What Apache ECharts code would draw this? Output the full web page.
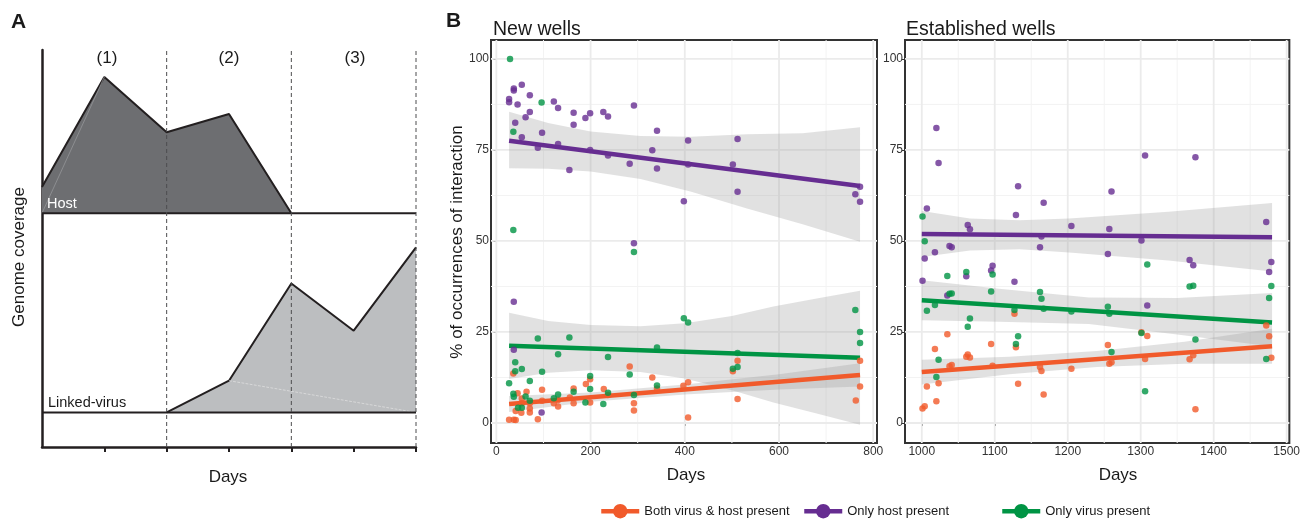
<!DOCTYPE html>
<html>
<head>
<meta charset="utf-8">
<script src="https://cdn.jsdelivr.net/npm/echarts@6/dist/echarts.min.js"></script>
<style>
html,body{margin:0;padding:0;background:#fff;}
#chart{width:1303px;height:521px;}
</style>
</head>
<body>
<div id="chart"></div>
<script>
// ---------------- Panel A (schematic) ----------------
const hostX = [0, 1, 2, 3, 4];
const hostY = [65.5, 93.2, 79.3, 83.9, 58.9];
const hostBase = 58.9;
const virusX = [2, 3, 4, 5, 6];
const virusY = [8.7, 16.7, 41.2, 29.3, 50.3];
const virusBase = 8.7;
const phaseLinesX = [2, 4, 6];
const dayTicksA = [1, 2, 3, 4, 5, 6];
const phaseLabels = ['(1)', '(2)', '(3)'];

// ---------------- Panel B ----------------
const categories = ['Both virus & host present', 'Only host present', 'Only virus present'];
const colors = ['#F15A2B', '#662D91', '#009444'];

const xTicksNew = [0, 200, 400, 600, 800];
const xMinorNew = [100, 300, 500, 700];
const xTicksEst = [1000, 1100, 1200, 1300, 1400, 1500];
const xMinorEst = [1050, 1150, 1250, 1350, 1450];
const yTicks = [0, 25, 50, 75, 100];
const yMinor = [12.5, 37.5, 62.5, 87.5];

// New wells scatter [day, %]
const newBoth = [[27,0.9],[37,0.9],[41,0.8],[88,1.0],[41,3.3],[53,2.8],[71,2.9],[71,4.0],[71,5.4],[36,13.6],[45,8.2],[54,6.7],[54,5.4],[64,8.6],[97,9.1],[97,6.1],[122,5.4],[131,4.5],[131,6.3],[156,7.0],[164,9.5],[164,5.4],[190,10.7],[199,12.0],[199,5.6],[228,9.3],[237,7.7],[283,15.5],[292,5.4],[292,3.4],[331,12.5],[341,9.5],[397,10.2],[407,11.2],[407,1.5],[502,14.2],[512,17.1],[512,6.6],[772,17.1],[772,10.0],[763,6.2]];
const newHost = [[54,92.9],[37,91.9],[37,91.3],[71,90.0],[27,89.0],[27,88.1],[45,87.5],[122,88.3],[131,86.5],[71,85.4],[164,85.2],[199,85.1],[227,85.4],[237,84.2],[189,83.8],[62,84.0],[292,87.2],[40,82.5],[164,81.9],[97,79.7],[54,78.5],[341,80.3],[407,77.6],[88,75.6],[131,76.6],[331,74.9],[199,75.0],[237,73.5],[283,71.2],[341,69.9],[155,69.5],[407,71.0],[398,60.9],[292,49.4],[512,78.0],[502,71.0],[512,63.5],[772,64.9],[762,62.8],[772,60.8],[37,33.3],[37,20.1],[96,2.9]];
const newVirus = [[29,100],[96,88],[36,80],[36,53],[292,47.0],[27,10.9],[36,8.0],[37,7.2],[40,16.7],[40,14.2],[54,14.8],[71,11.5],[62,7.3],[54,4.2],[46,4.2],[88,23.2],[155,23.5],[97,14.1],[131,18.9],[237,18.1],[341,20.7],[283,13.3],[199,12.9],[199,9.3],[131,7.8],[164,8.6],[189,5.6],[227,5.2],[122,6.8],[71,6.1],[341,10.3],[292,7.7],[237,8.3],[398,28.8],[407,27.6],[512,19.2],[502,14.9],[512,15.4],[762,31.0],[772,25.0],[772,22.0]];

// Established wells scatter [day, %]
const estBoth = [[1035,24.4],[1127,30.0],[1095,21.7],[1129,20.8],[1018,20.3],[1063,18.8],[1066,18.0],[1061,18.2],[1038,15.6],[1041,15.9],[1097,15.7],[1162,15.4],[1164,14.3],[1205,14.9],[1007,10.0],[1023,10.9],[1132,10.8],[1167,7.8],[1020,6.0],[1001,4.0],[1004,4.6],[1301,24.9],[1309,23.9],[1472,26.8],[1476,23.8],[1255,21.4],[1479,17.9],[1372,18.6],[1367,17.5],[1306,17.6],[1257,16.3],[1260,16.7],[1375,3.8]];
const estHost = [[1020,81.0],[1023,71.4],[1132,65.0],[1167,60.5],[1007,58.9],[1129,57.1],[1063,54.4],[1066,53.2],[1205,54.1],[1164,51.2],[1038,48.6],[1041,48.3],[1162,48.3],[1018,46.9],[1004,45.2],[1097,43.2],[1095,41.9],[1061,40.3],[1001,39.1],[1127,38.8],[1035,35.0],[1306,73.5],[1375,73.0],[1260,63.6],[1472,55.2],[1257,53.3],[1301,50.1],[1255,46.4],[1367,44.8],[1372,43.3],[1479,44.2],[1476,41.5],[1309,32.3]];
const estVirus = [[1001,56.7],[1004,49.9],[1035,40.4],[1061,41.5],[1097,40.8],[1095,36.1],[1162,36.0],[1164,34.1],[1038,35.5],[1041,35.6],[1007,30.8],[1018,32.4],[1127,31.0],[1167,31.4],[1205,30.6],[1066,28.7],[1063,26.4],[1132,23.8],[1129,21.7],[1023,17.4],[1020,12.6],[1309,43.5],[1367,37.5],[1372,37.7],[1479,37.6],[1476,34.3],[1255,31.9],[1257,30.0],[1301,24.7],[1375,22.9],[1260,19.5],[1472,17.6],[1306,8.7]];

// Linear fits (end points) and confidence bands
const newFitX = [27, 772];
const newBothFit = [5.2, 13.2];
const newHostFit = [77.5, 65.1];
const newVirusFit = [21.2, 17.9];
const newBothBandX = [27, 200, 400, 600, 772];
const newBothUp = [7.4, 8.4, 10.6, 13.4, 16.4];
const newBothLo = [3.0, 5.8, 7.8, 9.2, 10.0];
const newHostBandX = [27, 110, 200, 306, 412, 532, 650, 772];
const newHostUp = [85.5, 82.4, 80.1, 78.8, 78.6, 79.3, 79.6, 81.2];
const newHostLo = [70.0, 69.8, 69.1, 67.0, 63.6, 58.9, 54.6, 49.8];
const newVirusBandX = [27, 110, 200, 306, 400, 500, 588, 680, 772];
const newVirusUp = [30.3, 28.0, 26.9, 26.6, 27.4, 29.4, 32.0, 34.2, 36.3];
const newVirusLo = [12.1, 13.8, 14.5, 14.0, 12.2, 9.0, 5.6, 2.6, -0.5];

const estFitX = [1000, 1480];
const estBothFit = [14.0, 21.1];
const estHostFit = [51.9, 51.0];
const estVirusFit = [33.7, 27.6];
const estBothBandX = [1000, 1120, 1240, 1360, 1480];
const estBothUp = [17.4, 18.2, 19.8, 22.3, 25.9];
const estBothLo = [10.6, 13.4, 15.4, 16.3, 16.3];
const estHostBandX = [1000, 1066, 1134, 1202, 1338, 1480];
const estHostUp = [58.2, 56.2, 55.7, 56.2, 58.0, 60.4];
const estHostLo = [45.6, 47.4, 47.7, 46.8, 44.6, 41.6];
const estVirusBandX = [1000, 1106, 1229, 1350, 1480];
const estVirusUp = [39.2, 36.9, 34.5, 34.3, 35.7];
const estVirusLo = [28.2, 27.8, 27.2, 24.3, 21.0];

// ---------------- helpers ----------------
const FONT = '"Liberation Sans", Arial, Helvetica, sans-serif';
const TXT = '#1a1a1a';

function gridLineSeries(idx, vals, vertical, color, width, other) {
  return {
    type: 'custom', xAxisIndex: idx, yAxisIndex: idx, silent: true, z: 1,
    data: vals.map(v => vertical ? [v, other] : [other, v]),
    renderItem: function (params, api) {
      const cs = params.coordSys;
      const p = api.coord([api.value(0), api.value(1)]);
      const shape = vertical
        ? {x1: p[0], y1: cs.y, x2: p[0], y2: cs.y + cs.height}
        : {x1: cs.x, y1: p[1], x2: cs.x + cs.width, y2: p[1]};
      return {type: 'line', shape: shape, style: {stroke: color, lineWidth: width}};
    }
  };
}
function bandSeries(idx, xs, up, lo) {
  return {
    type: 'custom', xAxisIndex: idx, yAxisIndex: idx, silent: true, z: 2,
    data: [[xs[0], up[0]]],
    renderItem: function (params, api) {
      const pts = [];
      for (let i = 0; i < xs.length; i++) pts.push(api.coord([xs[i], up[i]]));
      for (let i = xs.length - 1; i >= 0; i--) pts.push(api.coord([xs[i], lo[i]]));
      return {type: 'polygon', shape: {points: pts}, style: {fill: '#9a9a9a', opacity: 0.3}};
    }
  };
}
function scatterSeries(idx, data, color) {
  return {type: 'scatter', xAxisIndex: idx, yAxisIndex: idx, data: data, symbolSize: 6.5,
    itemStyle: {color: color}, z: 2, silent: true};
}
function fitSeries(idx, xs, ys, color) {
  return {type: 'line', xAxisIndex: idx, yAxisIndex: idx, data: xs.map((x, i) => [x, ys[i]]),
    symbol: 'none', lineStyle: {color: color, width: 4.5}, z: 2, silent: true};
}
function panelAxisX(idx, min, max, ticks) {
  return {
    type: 'value', gridIndex: idx, min: min, max: max,
    axisLine: {show: false},
    axisTick: {show: true, customValues: ticks, length: 3, lineStyle: {color: '#333', width: 1}},
    axisLabel: {customValues: ticks, fontFamily: FONT, fontSize: 12, color: '#333', margin: 3,
      formatter: function (v) { return String(v); }},
    splitLine: {show: false}
  };
}
function panelAxisY(idx) {
  return {
    type: 'value', gridIndex: idx, min: -5.5, max: 105.2,
    axisLine: {show: false},
    axisTick: {show: true, customValues: yTicks, length: 3, lineStyle: {color: '#333', width: 1}},
    axisLabel: {customValues: yTicks, fontFamily: FONT, fontSize: 12, color: '#333', margin: 2,
      formatter: function (v) { return String(v); }},
    splitLine: {show: false}
  };
}

const chart = echarts.init(document.getElementById('chart'), null, {renderer: 'canvas'});

const series = [];
// Panel A
series.push({type: 'line', xAxisIndex: 0, yAxisIndex: 0, data: hostX.map((x, i) => [x, hostY[i]]),
  symbol: 'none', lineStyle: {color: '#231f20', width: 2},
  areaStyle: {color: '#6d6e71', opacity: 1, origin: hostBase}, z: 2, silent: true});
series.push({type: 'line', xAxisIndex: 0, yAxisIndex: 0, data: [[hostX[0], hostBase], [hostX[1], hostY[1]]],
  symbol: 'none', lineStyle: {color: '#9a9b9d', width: 0.7}, z: 3, silent: true});
series.push({type: 'line', xAxisIndex: 0, yAxisIndex: 0, data: [[0, hostBase], [6, hostBase]],
  symbol: 'none', lineStyle: {color: '#231f20', width: 2}, z: 4, silent: true});
series.push({type: 'line', xAxisIndex: 0, yAxisIndex: 0, data: virusX.map((x, i) => [x, virusY[i]]),
  symbol: 'none', lineStyle: {color: '#231f20', width: 2},
  areaStyle: {color: '#bcbec0', opacity: 1, origin: virusBase}, z: 2, silent: true});
series.push({type: 'line', xAxisIndex: 0, yAxisIndex: 0, data: [[virusX[1], virusY[1]], [virusX[4], virusBase]],
  symbol: 'none', lineStyle: {color: '#e2e2e2', width: 0.7, type: 'dashed'}, z: 3, silent: true});
series.push({type: 'line', xAxisIndex: 0, yAxisIndex: 0, data: [[0, virusBase], [6, virusBase]],
  symbol: 'none', lineStyle: {color: '#231f20', width: 2}, z: 4, silent: true});
series.push({
  type: 'custom', xAxisIndex: 0, yAxisIndex: 0, silent: true, z: 5,
  data: phaseLinesX.map(x => [x, 0]),
  renderItem: function (params, api) {
    const p0 = api.coord([api.value(0), 0]);
    const p1 = api.coord([api.value(0), 100]);
    return {type: 'line', shape: {x1: p0[0], y1: p0[1], x2: p1[0], y2: p1[1]},
      style: {stroke: '#4d4d4f', lineWidth: 1, lineDash: [4, 3]}};
  }
});

// Panel B grids
[[1, xTicksNew, xMinorNew, 400], [2, xTicksEst, xMinorEst, 1200]].forEach(function (g) {
  series.push(gridLineSeries(g[0], g[2], true, '#f3f3f3', 1, 50));
  series.push(gridLineSeries(g[0], yMinor, false, '#f3f3f3', 1, g[3]));
  series.push(gridLineSeries(g[0], g[1], true, '#ebebeb', 1.8, 50));
  series.push(gridLineSeries(g[0], yTicks, false, '#ebebeb', 1.8, g[3]));
});

// scatter
series.push(scatterSeries(1, newBoth, colors[0]));
series.push(scatterSeries(1, newHost, colors[1]));
series.push(scatterSeries(1, newVirus, colors[2]));
series.push(scatterSeries(2, estBoth, colors[0]));
series.push(scatterSeries(2, estHost, colors[1]));
series.push(scatterSeries(2, estVirus, colors[2]));
// bands
series.push(bandSeries(1, newHostBandX, newHostUp, newHostLo));
series.push(bandSeries(1, newVirusBandX, newVirusUp, newVirusLo));
series.push(bandSeries(1, newBothBandX, newBothUp, newBothLo));
series.push(bandSeries(2, estHostBandX, estHostUp, estHostLo));
series.push(bandSeries(2, estVirusBandX, estVirusUp, estVirusLo));
series.push(bandSeries(2, estBothBandX, estBothUp, estBothLo));
// fits
series.push(fitSeries(1, newFitX, newHostFit, colors[1]));
series.push(fitSeries(1, newFitX, newVirusFit, colors[2]));
series.push(fitSeries(1, newFitX, newBothFit, colors[0]));
series.push(fitSeries(2, estFitX, estHostFit, colors[1]));
series.push(fitSeries(2, estFitX, estVirusFit, colors[2]));
series.push(fitSeries(2, estFitX, estBothFit, colors[0]));
// legend-only series
categories.forEach(function (c, i) {
  series.push({type: 'line', name: c, xAxisIndex: 1, yAxisIndex: 1, data: [],
    symbol: 'circle', symbolSize: 14, itemStyle: {color: colors[i]},
    lineStyle: {color: colors[i], width: 5}});
});

function txt(text, x, y, size, opts) {
  opts = opts || {};
  return {
    type: 'text', x: x, y: y, rotation: opts.rotation || 0, silent: true, z: 100,
    style: {text: text, fill: opts.fill || TXT, fontFamily: FONT, fontSize: size,
      fontWeight: opts.bold ? 'bold' : 'normal',
      align: opts.align || 'left', verticalAlign: 'middle'}
  };
}

const graphics = [
  txt('A', 11, 22, 21, {bold: true}),
  txt('B', 446, 21, 21, {bold: true}),
  txt('Genome coverage', 19, 257, 17, {align: 'center', rotation: Math.PI / 2}),
  txt('Days', 228, 477, 17, {align: 'center'}),
  txt('Host', 47, 204, 14.5, {fill: '#ffffff'}),
  txt('Linked-virus', 48, 403, 14.5),
  txt(phaseLabels[0], 107, 58, 17, {align: 'center'}),
  txt(phaseLabels[1], 229, 58, 17, {align: 'center'}),
  txt(phaseLabels[2], 355, 58, 17, {align: 'center'}),
  txt('New wells', 493, 30, 19.5),
  txt('Established wells', 906, 30, 19.5),
  txt('% of occurrences of interaction', 457, 242, 17, {align: 'center', rotation: Math.PI / 2}),
  txt('Days', 686, 475, 17, {align: 'center'}),
  txt('Days', 1118, 475, 17, {align: 'center'})
];

const legendLefts = [599, 802, 1000];
const legends = categories.map(function (c, i) {
  return {
    data: [c], left: legendLefts[i], top: 504, orient: 'horizontal', padding: 0,
    itemWidth: 38, itemHeight: 18, selectedMode: false,
    lineStyle: {width: 4.5},
    textStyle: {fontFamily: FONT, fontSize: 13, color: TXT}
  };
});

chart.setOption({
  animation: false,
  backgroundColor: '#ffffff',
  textStyle: {fontFamily: FONT},
  grid: [
    {left: 42, top: 50, width: 374, height: 397, show: false},
    {left: 491, top: 40, width: 386, height: 403, show: true, backgroundColor: '#fff', borderColor: '#333', borderWidth: 2},
    {left: 905, top: 40, width: 387, height: 403, show: true, backgroundColor: '#fff', borderColor: '#333', borderWidth: 2}
  ],
  xAxis: [
    {type: 'value', gridIndex: 0, min: 0, max: 6,
      axisLine: {show: true, onZero: false, lineStyle: {color: '#231f20', width: 2.5}},
      axisTick: {show: true, customValues: dayTicksA, length: 5, lineStyle: {color: '#231f20', width: 2}},
      axisLabel: {show: false}, splitLine: {show: false}},
    panelAxisX(1, -11.4, 808, xTicksNew),
    panelAxisX(2, 977, 1503.7, xTicksEst)
  ],
  yAxis: [
    {type: 'value', gridIndex: 0, min: 0, max: 100,
      axisLine: {show: true, onZero: false, lineStyle: {color: '#231f20', width: 2.5}},
      axisTick: {show: false}, axisLabel: {show: false}, splitLine: {show: false}},
    panelAxisY(1),
    panelAxisY(2)
  ],
  legend: legends,
  graphic: graphics,
  series: series
});
</script>
</body>
</html>
